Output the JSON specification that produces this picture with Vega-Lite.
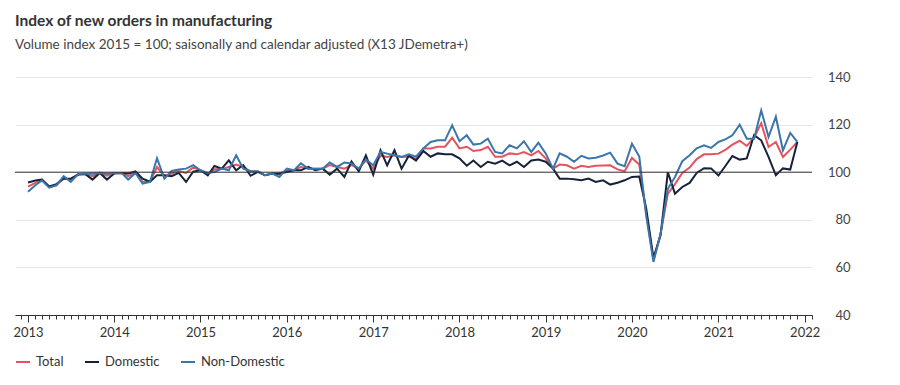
{
  "$schema": "https://vega.github.io/schema/vega-lite/v6.json",
  "autosize": {"type": "none"},
  "width": 797,
  "height": 238,
  "padding": {"left": 15, "top": 77, "right": 88, "bottom": 70},
  "background": "white",
  "config": {"view": {"stroke": null}, "font": "Lato"},
  "title": {
    "text": "Index of new orders in manufacturing",
    "subtitle": "Volume index 2015 = 100; saisonally and calendar adjusted (X13 JDemetra+)",
    "anchor": "start", "frame": "group", "offset": 20,
    "font": "Lato", "fontSize": 15.5, "fontWeight": "bold", "color": "#333333",
    "subtitleFont": "Lato", "subtitleFontSize": 13.5, "subtitleColor": "#444444", "subtitlePadding": 8
  },
  "datasets": {
    "orders": [
      {"d":"2013/01/01","Total":93.9,"Domestic":95.7,"Non-Domestic":91.8},
      {"d":"2013/02/01","Total":95.5,"Domestic":96.5,"Non-Domestic":94.5},
      {"d":"2013/03/01","Total":96.8,"Domestic":96.9,"Non-Domestic":96.5},
      {"d":"2013/04/01","Total":93.8,"Domestic":94.0,"Non-Domestic":93.5},
      {"d":"2013/05/01","Total":94.5,"Domestic":95.0,"Non-Domestic":94.5},
      {"d":"2013/06/01","Total":97.5,"Domestic":97.3,"Non-Domestic":98.3},
      {"d":"2013/07/01","Total":96.8,"Domestic":97.3,"Non-Domestic":95.9},
      {"d":"2013/08/01","Total":99.0,"Domestic":99.0,"Non-Domestic":99.2},
      {"d":"2013/09/01","Total":99.2,"Domestic":99.2,"Non-Domestic":99.4},
      {"d":"2013/10/01","Total":98.3,"Domestic":96.9,"Non-Domestic":99.4},
      {"d":"2013/11/01","Total":99.7,"Domestic":99.7,"Non-Domestic":99.7},
      {"d":"2013/12/01","Total":98.5,"Domestic":96.9,"Non-Domestic":99.4},
      {"d":"2014/01/01","Total":99.7,"Domestic":99.5,"Non-Domestic":99.7},
      {"d":"2014/02/01","Total":99.6,"Domestic":99.7,"Non-Domestic":99.7},
      {"d":"2014/03/01","Total":98.3,"Domestic":99.5,"Non-Domestic":96.9},
      {"d":"2014/04/01","Total":99.8,"Domestic":100.3,"Non-Domestic":99.7},
      {"d":"2014/05/01","Total":95.9,"Domestic":97.3,"Non-Domestic":95.2},
      {"d":"2014/06/01","Total":95.9,"Domestic":96.0,"Non-Domestic":95.9},
      {"d":"2014/07/01","Total":102.2,"Domestic":98.7,"Non-Domestic":105.9},
      {"d":"2014/08/01","Total":98.2,"Domestic":98.7,"Non-Domestic":97.3},
      {"d":"2014/09/01","Total":99.4,"Domestic":98.3,"Non-Domestic":100.5},
      {"d":"2014/10/01","Total":100.5,"Domestic":99.7,"Non-Domestic":101.1},
      {"d":"2014/11/01","Total":99.7,"Domestic":95.9,"Non-Domestic":101.5},
      {"d":"2014/12/01","Total":102.0,"Domestic":100.2,"Non-Domestic":103.0},
      {"d":"2015/01/01","Total":100.8,"Domestic":100.8,"Non-Domestic":100.8},
      {"d":"2015/02/01","Total":99.2,"Domestic":98.7,"Non-Domestic":99.7},
      {"d":"2015/03/01","Total":101.2,"Domestic":102.6,"Non-Domestic":100.1},
      {"d":"2015/04/01","Total":101.3,"Domestic":101.5,"Non-Domestic":101.5},
      {"d":"2015/05/01","Total":102.2,"Domestic":105.0,"Non-Domestic":100.8},
      {"d":"2015/06/01","Total":103.2,"Domestic":100.8,"Non-Domestic":107.1},
      {"d":"2015/07/01","Total":102.2,"Domestic":103.0,"Non-Domestic":101.5},
      {"d":"2015/08/01","Total":100.4,"Domestic":98.5,"Non-Domestic":100.4},
      {"d":"2015/09/01","Total":100.2,"Domestic":100.1,"Non-Domestic":100.4},
      {"d":"2015/10/01","Total":98.7,"Domestic":98.7,"Non-Domestic":98.7},
      {"d":"2015/11/01","Total":99.4,"Domestic":99.4,"Non-Domestic":99.4},
      {"d":"2015/12/01","Total":99.4,"Domestic":99.4,"Non-Domestic":98.0},
      {"d":"2016/01/01","Total":100.8,"Domestic":100.1,"Non-Domestic":101.5},
      {"d":"2016/02/01","Total":100.8,"Domestic":100.8,"Non-Domestic":100.8},
      {"d":"2016/03/01","Total":102.2,"Domestic":100.8,"Non-Domestic":103.7},
      {"d":"2016/04/01","Total":101.5,"Domestic":102.2,"Non-Domestic":101.5},
      {"d":"2016/05/01","Total":101.5,"Domestic":100.8,"Non-Domestic":101.5},
      {"d":"2016/06/01","Total":101.5,"Domestic":101.5,"Non-Domestic":101.5},
      {"d":"2016/07/01","Total":103.0,"Domestic":99.0,"Non-Domestic":104.1},
      {"d":"2016/08/01","Total":102.2,"Domestic":101.5,"Non-Domestic":102.2},
      {"d":"2016/09/01","Total":101.5,"Domestic":98.0,"Non-Domestic":104.1},
      {"d":"2016/10/01","Total":103.0,"Domestic":104.5,"Non-Domestic":103.7},
      {"d":"2016/11/01","Total":101.5,"Domestic":100.4,"Non-Domestic":101.5},
      {"d":"2016/12/01","Total":105.0,"Domestic":107.1,"Non-Domestic":105.4},
      {"d":"2017/01/01","Total":101.5,"Domestic":99.0,"Non-Domestic":102.9},
      {"d":"2017/02/01","Total":107.0,"Domestic":109.2,"Non-Domestic":108.5},
      {"d":"2017/03/01","Total":106.4,"Domestic":102.9,"Non-Domestic":107.8},
      {"d":"2017/04/01","Total":107.1,"Domestic":109.2,"Non-Domestic":107.1},
      {"d":"2017/05/01","Total":106.4,"Domestic":101.5,"Non-Domestic":106.4},
      {"d":"2017/06/01","Total":106.6,"Domestic":107.0,"Non-Domestic":107.5},
      {"d":"2017/07/01","Total":105.5,"Domestic":104.9,"Non-Domestic":106.5},
      {"d":"2017/08/01","Total":110.0,"Domestic":108.9,"Non-Domestic":110.0},
      {"d":"2017/09/01","Total":110.0,"Domestic":106.5,"Non-Domestic":112.7},
      {"d":"2017/10/01","Total":110.7,"Domestic":107.9,"Non-Domestic":113.4},
      {"d":"2017/11/01","Total":110.7,"Domestic":107.5,"Non-Domestic":113.4},
      {"d":"2017/12/01","Total":114.5,"Domestic":107.5,"Non-Domestic":119.7},
      {"d":"2018/01/01","Total":110.0,"Domestic":105.8,"Non-Domestic":113.0},
      {"d":"2018/02/01","Total":110.7,"Domestic":102.7,"Non-Domestic":115.5},
      {"d":"2018/03/01","Total":108.9,"Domestic":104.9,"Non-Domestic":111.6},
      {"d":"2018/04/01","Total":109.3,"Domestic":102.2,"Non-Domestic":112.0},
      {"d":"2018/05/01","Total":110.7,"Domestic":104.4,"Non-Domestic":114.1},
      {"d":"2018/06/01","Total":106.5,"Domestic":103.6,"Non-Domestic":108.5},
      {"d":"2018/07/01","Total":106.5,"Domestic":104.9,"Non-Domestic":107.9},
      {"d":"2018/08/01","Total":107.9,"Domestic":102.9,"Non-Domestic":111.3},
      {"d":"2018/09/01","Total":107.5,"Domestic":104.4,"Non-Domestic":110.0},
      {"d":"2018/10/01","Total":108.5,"Domestic":102.2,"Non-Domestic":113.0},
      {"d":"2018/11/01","Total":107.1,"Domestic":104.9,"Non-Domestic":108.5},
      {"d":"2018/12/01","Total":108.9,"Domestic":105.3,"Non-Domestic":112.4},
      {"d":"2019/01/01","Total":105.8,"Domestic":104.4,"Non-Domestic":107.9},
      {"d":"2019/02/01","Total":101.5,"Domestic":101.5,"Non-Domestic":101.5},
      {"d":"2019/03/01","Total":103.2,"Domestic":97.3,"Non-Domestic":107.9},
      {"d":"2019/04/01","Total":102.9,"Domestic":97.3,"Non-Domestic":106.5},
      {"d":"2019/05/01","Total":101.5,"Domestic":97.0,"Non-Domestic":104.4},
      {"d":"2019/06/01","Total":102.7,"Domestic":96.6,"Non-Domestic":106.9},
      {"d":"2019/07/01","Total":102.2,"Domestic":97.3,"Non-Domestic":105.8},
      {"d":"2019/08/01","Total":102.7,"Domestic":95.9,"Non-Domestic":106.1},
      {"d":"2019/09/01","Total":102.8,"Domestic":96.6,"Non-Domestic":107.0},
      {"d":"2019/10/01","Total":102.9,"Domestic":94.8,"Non-Domestic":108.2},
      {"d":"2019/11/01","Total":101.2,"Domestic":95.6,"Non-Domestic":103.6},
      {"d":"2019/12/01","Total":100.4,"Domestic":96.6,"Non-Domestic":102.5},
      {"d":"2020/01/01","Total":106.0,"Domestic":98.0,"Non-Domestic":112.0},
      {"d":"2020/02/01","Total":103.2,"Domestic":98.2,"Non-Domestic":106.6},
      {"d":"2020/03/01","Total":83.0,"Domestic":85.0,"Non-Domestic":82.0},
      {"d":"2020/04/01","Total":63.0,"Domestic":64.0,"Non-Domestic":62.3},
      {"d":"2020/05/01","Total":74.0,"Domestic":73.5,"Non-Domestic":74.0},
      {"d":"2020/06/01","Total":91.0,"Domestic":100.0,"Non-Domestic":93.0},
      {"d":"2020/07/01","Total":95.0,"Domestic":91.0,"Non-Domestic":98.0},
      {"d":"2020/08/01","Total":99.7,"Domestic":93.8,"Non-Domestic":104.6},
      {"d":"2020/09/01","Total":102.0,"Domestic":95.5,"Non-Domestic":107.1},
      {"d":"2020/10/01","Total":105.5,"Domestic":99.7,"Non-Domestic":110.0},
      {"d":"2020/11/01","Total":107.5,"Domestic":101.7,"Non-Domestic":111.3},
      {"d":"2020/12/01","Total":107.5,"Domestic":101.6,"Non-Domestic":110.2},
      {"d":"2021/01/01","Total":107.8,"Domestic":98.6,"Non-Domestic":112.7},
      {"d":"2021/02/01","Total":109.5,"Domestic":102.8,"Non-Domestic":113.9},
      {"d":"2021/03/01","Total":111.6,"Domestic":106.8,"Non-Domestic":115.5},
      {"d":"2021/04/01","Total":113.2,"Domestic":105.3,"Non-Domestic":120.0},
      {"d":"2021/05/01","Total":111.0,"Domestic":105.8,"Non-Domestic":114.1},
      {"d":"2021/06/01","Total":114.5,"Domestic":115.6,"Non-Domestic":114.1},
      {"d":"2021/07/01","Total":120.6,"Domestic":113.4,"Non-Domestic":126.0},
      {"d":"2021/08/01","Total":110.6,"Domestic":106.4,"Non-Domestic":114.8},
      {"d":"2021/09/01","Total":112.7,"Domestic":98.7,"Non-Domestic":123.3},
      {"d":"2021/10/01","Total":106.4,"Domestic":101.6,"Non-Domestic":109.2},
      {"d":"2021/11/01","Total":109.5,"Domestic":101.1,"Non-Domestic":116.5},
      {"d":"2021/12/01","Total":112.7,"Domestic":112.7,"Non-Domestic":112.7}
    ],
    "ref": [{"level": 100}]
  },
  "layer": [
    {
      "data": {"name": "orders"},
      "transform": [{"fold": ["Total", "Domestic", "Non-Domestic"], "as": ["series", "value"]}],
      "mark": {"type": "line", "strokeWidth": 2, "interpolate": "linear"},
      "encoding": {
        "x": {
          "field": "d", "type": "temporal",
          "scale": {"domain": [{"year": 2012, "month": 11, "date": 7}, {"year": 2022, "month": 2, "date": 1}]},
          "axis": {
            "title": null, "grid": false,
            "tickCount": "month",
            "labelExpr": "month(datum.value) === 0 ? timeFormat(datum.value, '%Y') : ''",
            "labelOverlap": false, "labelBound": false, "labelFlush": false,
            "labelFont": "Lato", "labelFontSize": 13, "labelColor": "#333333", "labelPadding": 4,
            "domainColor": "#333333", "domainWidth": 1,
            "tickColor": "#333333", "tickWidth": 1,
            "tickSize": {"condition": {"test": "month(datum.value) === 0", "value": 7}, "value": 4}
          }
        },
        "y": {
          "field": "value", "type": "quantitative",
          "scale": {"domain": [40, 140], "nice": false, "zero": false},
          "axis": {
            "title": null, "orient": "right", "values": [40, 60, 80, 100, 120, 140],
            "grid": true, "gridColor": "#e6e6e6", "gridWidth": 1,
            "domain": false, "ticks": false,
            "labelAlign": "right", "labelPadding": 38,
            "labelFont": "Lato", "labelFontSize": 13, "labelColor": "#444444"
          }
        },
        "color": {
          "field": "series", "type": "nominal",
          "scale": {"domain": ["Total", "Domestic", "Non-Domestic"], "range": ["#e4535e", "#15233a", "#3b76ab"]},
          "legend": {
            "title": null, "orient": "none", "legendX": 0, "legendY": 277,
            "direction": "horizontal", "symbolType": "stroke", "symbolSize": 196,
            "symbolStrokeWidth": 2, "labelFont": "Lato", "labelFontSize": 13,
            "labelColor": "#333333", "labelOffset": 5, "columnPadding": 17
          }
        }
      }
    },
    {
      "data": {"name": "ref"},
      "mark": {"type": "rule", "color": "#333333", "strokeWidth": 1},
      "encoding": {"y": {"field": "level", "type": "quantitative"}}
    }
  ]
}
